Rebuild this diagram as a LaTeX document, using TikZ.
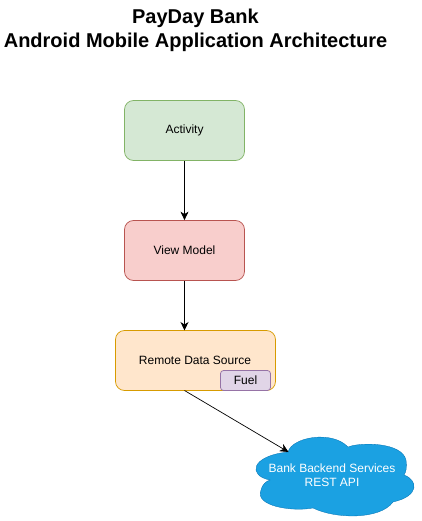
\documentclass[tikz,border=0pt]{standalone}
\usepackage{fontspec}
\setmainfont{Liberation Sans}
\usetikzlibrary{arrows.meta}
\definecolor{gf}{HTML}{D5E8D4}\definecolor{gd}{HTML}{82B366}
\definecolor{rf}{HTML}{F8CECC}\definecolor{rd}{HTML}{B85450}
\definecolor{of}{HTML}{FFE6CC}\definecolor{od}{HTML}{D79B00}
\definecolor{pf}{HTML}{E1D5E7}\definecolor{pd}{HTML}{9673A6}
\definecolor{cloudblue}{HTML}{1BA1E2}\definecolor{cloudline}{HTML}{006EAF}
\tikzset{
 box/.style={draw,rounded corners=9pt,line width=0.75pt,minimum width=120pt,minimum height=60pt,inner sep=0pt,font=\fontsize{12}{14}\selectfont},
 conn/.style={draw=black,line width=0.9pt,-{Stealth[length=8.5pt,width=8pt,inset=2.5pt]}},
}
\begin{document}
\begin{tikzpicture}[x=1pt,y=-1pt]
\useasboundingbox (0,0) rectangle (421,521);
\node[font=\bfseries\fontsize{20}{23.5}\selectfont,align=center] (title) at (195.5,30.5) {PayDay Bank\\Android Mobile Application Architecture};
\node[box,fill=gf,draw=gd] (act) at (184.5,130.5) {\raisebox{-1pt}{Activity}};
\node[box,fill=rf,draw=rd] (vm) at (184.5,250.5) {\raisebox{-0.5pt}{View Model}};
\node[box,fill=of,draw=od,minimum width=160pt] (rds) at (195.5,360.5) {};
\node[font=\fontsize{12}{14}\selectfont] (rdst) at (195,360) {Remote Data Source};
\node[draw=pd,fill=pf,rounded corners=3pt,line width=0.75pt,minimum width=50pt,minimum height=20pt,inner sep=0pt,font=\fontsize{12}{14}\selectfont] (fuel) at (245.5,380.5) {Fuel};
\fill[cloudblue,draw=cloudline,line width=0.3pt] (288,452)
 .. controls (292,437) and (332,430) .. (348,447)
 .. controls (360,442) and (402,442) .. (406,460)
 .. controls (407,468) and (406,472) .. (404,475)
 .. controls (418,480) and (420,496) .. (393,502)
 .. controls (380,520) and (335,519) .. (313,508)
 .. controls (292,512) and (254,506) .. (261,490)
 .. controls (262,485) and (266,481) .. (270,480)
 .. controls (248,476) and (250,456) .. (288,452) -- cycle;
\node[text=white,align=center,font=\fontsize{12}{14}\selectfont] (cloud) at (332,475) {Bank Backend Services\\REST API};
\coordinate (cloudin) at (288.5,452);
\coordinate (rdsout) at (184.5,390.5);
\coordinate (rdsin) at (184.5,330.5);
\draw[conn] (act.south) -- (vm.north);
\draw[conn] (vm.south) -- (rdsin);
\draw[conn,line width=0.7pt] (rdsout) -- (cloudin);
\end{tikzpicture}
\end{document}
